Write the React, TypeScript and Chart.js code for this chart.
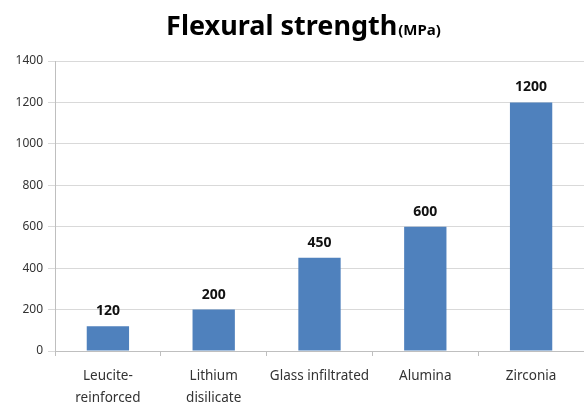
import React, { useEffect, useRef } from "react";
import { Chart, registerables } from "chart.js";

Chart.register(...registerables);

const categories: (string | string[])[] = [
  ["Leucite-", "reinforced"],
  ["Lithium", "disilicate"],
  "Glass infiltrated",
  "Alumina",
  "Zirconia",
];
const strengthValues = [120, 200, 450, 600, 1200];
const yTicks = [0, 200, 400, 600, 800, 1000, 1200, 1400];
const titleMain = "Flexural strength";
const titleUnit = "(MPa)";

const FONT = "'Noto Sans', 'Open Sans', sans-serif";

const titlePlugin = {
  id: "mixedTitle",
  afterDraw(chart: any) {
    const ctx = chart.ctx;
    ctx.save();
    ctx.fillStyle = "#000";
    ctx.textBaseline = "alphabetic";
    ctx.font = `bold 27px ${FONT}`;
    const w1 = ctx.measureText(titleMain).width;
    ctx.font = `bold 15px ${FONT}`;
    const w2 = ctx.measureText(titleUnit).width;
    const x0 = 303 - (w1 + w2) / 2;
    ctx.font = `bold 27px ${FONT}`;
    ctx.textAlign = "left";
    ctx.fillText(titleMain, x0, 35);
    ctx.font = `bold 15px ${FONT}`;
    ctx.fillText(titleUnit, x0 + w1 + 1, 35);
    ctx.restore();
  },
};

const valueLabelPlugin = {
  id: "valueLabels",
  afterDatasetsDraw(chart: any) {
    const ctx = chart.ctx;
    const meta = chart.getDatasetMeta(0);
    ctx.save();
    ctx.font = `bold 14px ${FONT}`;
    ctx.fillStyle = "#111";
    ctx.textAlign = "center";
    ctx.textBaseline = "bottom";
    meta.data.forEach((bar: any, i: number) => {
      ctx.fillText(String(strengthValues[i]), bar.x, bar.y - 8);
    });
    ctx.restore();
  },
};

export default function App() {
  const ref = useRef<HTMLCanvasElement>(null);
  useEffect(() => {
    document.body.style.margin = "0";
    const chart = new Chart(ref.current!, {
      type: "bar",
      data: {
        labels: categories,
        datasets: [
          {
            data: strengthValues,
            backgroundColor: "#4F81BD",
            barPercentage: 0.4,
            categoryPercentage: 1,
          },
        ],
      },
      options: {
        animation: false,
        responsive: false,
        maintainAspectRatio: false,
        layout: { padding: { top: 61, right: 0, bottom: 0, left: 0 } },
        plugins: {
          legend: { display: false },
          title: { display: false },
          tooltip: { enabled: false },
        },
        scales: {
          x: {
            grid: {
              display: true,
              drawOnChartArea: false,
              offset: true,
              tickLength: 5,
              color: "#BFBFBF",
            },
            border: { color: "#BFBFBF" },
            ticks: {
              color: "#333333",
              font: { family: FONT, size: 13.5, lineHeight: 1.65 },
              padding: 9,
              maxRotation: 0,
              autoSkip: false,
            },
            afterFit(scale: any) {
              scale.height = 55;
            },
          },
          y: {
            min: 0,
            max: 1400,
            afterBuildTicks(scale: any) {
              scale.ticks = yTicks.map((v) => ({ value: v }));
            },
            grid: { color: "#D9D9D9", tickLength: 7 },
            border: { color: "#BFBFBF" },
            ticks: {
              color: "#333333",
              font: { family: FONT, size: 12 },
              padding: 5,
              callback: (v: any) => String(v),
            },
            afterFit(scale: any) {
              scale.width = 55;
            },
          },
        },
      },
      plugins: [titlePlugin, valueLabelPlugin],
    });
    return () => chart.destroy();
  }, []);
  return (
    <div style={{ width: 584, height: 406 }}>
      <canvas ref={ref} width={584} height={406} style={{ width: 584, height: 406 }} />
    </div>
  );
}
